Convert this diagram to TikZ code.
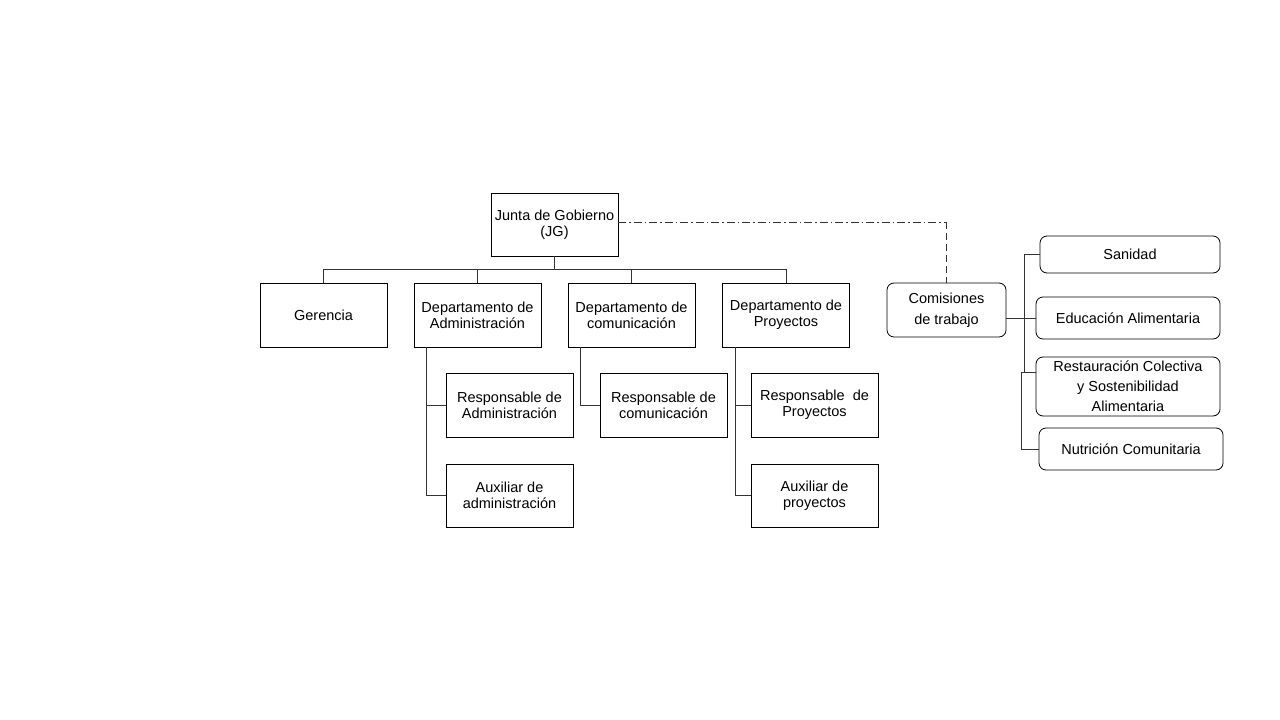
\documentclass[tikz,border=0pt]{standalone}
\usepackage{fontspec}
\setmainfont{Liberation Sans}
\begin{document}
\begin{tikzpicture}[x=1pt,y=-1pt,font=\fontsize{14.5}{16}\selectfont,
  box/.style={draw,line width=0.8pt,minimum width=127pt,minimum height=64pt,align=center,inner sep=1pt},
  rbox/.style={draw,line width=0.8pt,rounded corners=7pt,align=center,inner sep=1pt},
  link/.style={draw=black!80,line width=0.8pt}]
\useasboundingbox[fill=white] (0,0) rectangle (1280,720);

\node[box,minimum height=63pt] (jg) at (554.5,224.5) {Junta de Gobierno\\(JG)};

\node[box] (ger) at (323.5,315) {Gerencia};
\node[box] (adm) at (477.5,315) {Departamento de\\Administración};
\node[box] (com) at (631.5,315) {Departamento de\\comunicación};
\node[box] (proy) at (786,315) {Departamento de\\Proyectos};

\node[box] (radm) at (509.5,405) {Responsable de\\Administración};
\node[box,minimum height=63pt] (aadm) at (509.5,495.5) {Auxiliar de\\administración};
\node[box] (rcom) at (663.5,405) {Responsable de\\comunicación};
\node[box] (rproy) at (814.5,405) {Responsable\ \ de\\Proyectos};
\node[box,minimum height=63pt] (aproy) at (814.5,495.5) {Auxiliar de\\proyectos};

\node[rbox,minimum width=119pt,minimum height=54pt,font=\fontsize{14.5}{21}\selectfont] (cdt) at (946.5,310) {Comisiones\\de trabajo};
\node[rbox,minimum width=180pt,minimum height=37pt] (san) at (1130,254.5) {Sanidad};
\node[rbox,minimum width=184pt,minimum height=42pt] (edu) at (1128,318) {Educación Alimentaria};
\node[rbox,minimum width=184pt,minimum height=59pt,font=\fontsize{14.5}{20}\selectfont] (res) at (1128,386.5) {Restauración Colectiva\\y Sostenibilidad\\Alimentaria};
\node[rbox,minimum width=184pt,minimum height=42pt] (nut) at (1131,449) {Nutrición Comunitaria};

\foreach \n in {ger,adm,com,proy}
  \draw[link] (jg.south) -- ++(0,13) -| (\n.north);

\draw[link] ([xshift=13pt]adm.south west) |- (radm.west);
\draw[link] ([xshift=13pt]adm.south west) |- (aadm.west);
\draw[link] ([xshift=13pt]com.south west) |- (rcom.west);
\draw[link] ([xshift=13pt]proy.south west) |- (rproy.west);
\draw[link] ([xshift=13pt]proy.south west) |- (aproy.west);

\coordinate (jd) at ([yshift=2.5pt]jg.east);
\draw[link,dash pattern=on 8pt off 3pt on 1.5pt off 3pt] (jd) -- (jd -| cdt.north);
\draw[link,dash pattern=on 7pt off 4pt] (jd -| cdt.north) -- (cdt.north);

\coordinate (tr) at (1024,0);
\coordinate (rs) at ([yshift=14pt]res.west);
\draw[link] (cdt.east |- edu.west) -- (edu.west);
\draw[link] (san.west) -| (rs -| tr);
\draw[link] (rs) -- ([xshift=-3pt]rs -| tr) |- (nut.west);
\end{tikzpicture}
\end{document}
